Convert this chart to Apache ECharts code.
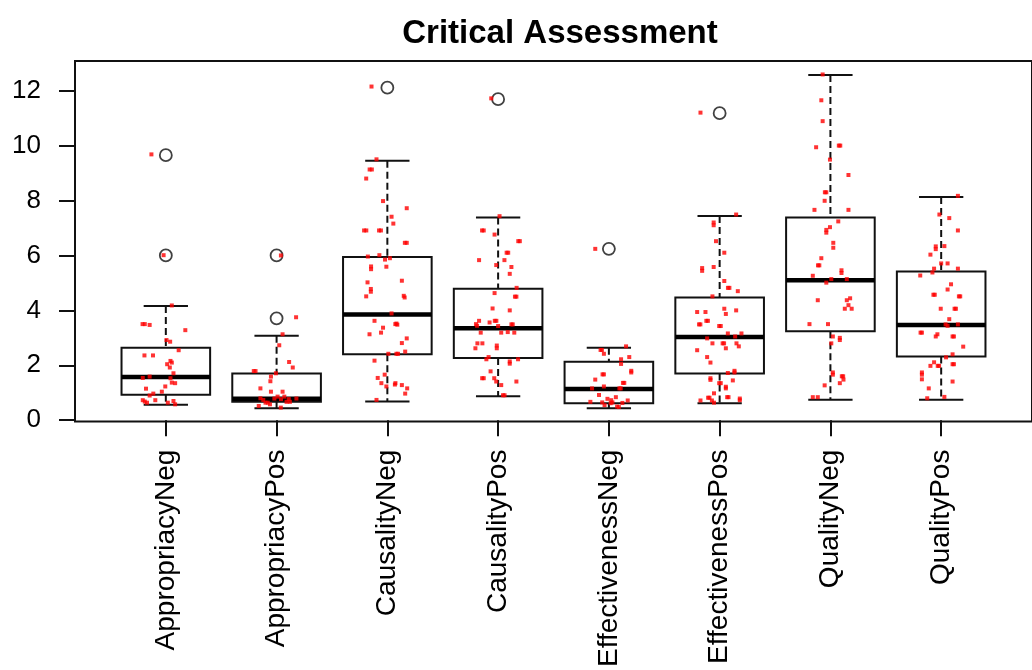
<!DOCTYPE html>
<html>
<head>
<meta charset="utf-8">
<script src="https://cdn.jsdelivr.net/npm/echarts@6/dist/echarts.min.js"></script>
<style>
  html, body { margin: 0; padding: 0; background: #fff; }
  #chart { width: 1032px; height: 670px; }
</style>
</head>
<body>
<div id="chart"></div>
<script>
// Groups on the x axis
const categories = ['AppropriacyNeg', 'AppropriacyPos', 'CausalityNeg', 'CausalityPos',
                    'EffectivenessNeg', 'EffectivenessPos', 'QualityNeg', 'QualityPos'];

// Five-number summaries per group
const whiskerLow  = [0.56, 0.44, 0.68, 0.87, 0.44, 0.62, 0.75, 0.75];
const lowerQuart  = [0.93, 0.67, 2.40, 2.27, 0.62, 1.70, 3.24, 2.32];
const medians     = [1.57, 0.78, 3.85, 3.35, 1.14, 3.03, 5.10, 3.47];
const upperQuart  = [2.64, 1.70, 5.94, 4.79, 2.13, 4.47, 7.38, 5.42];
const whiskerHigh = [4.16, 3.08, 9.45, 7.38, 2.64, 7.44, 12.57, 8.13];

// Values beyond the whiskers
const outliers = [[9.65, 6.0], [6.0, 3.71], [12.11], [11.69], [6.24], [11.18], [], []];

// Individual observations per group: [horizontal jitter, value]
const ptsAppropriacyNeg = [[-0.13,9.68],[-0.02,6.01],[0.054,4.18],[-0.21,3.50],[-0.19,3.50],[-0.146,3.47],[0.176,3.28],[0.006,2.92],[0.039,2.86],[0.116,2.55],[-0.193,2.36],[-0.116,2.36],[0.042,2.16],[0.054,2.10],[0.012,2.04],[0.036,1.92],[0.069,1.71],[-0.208,1.54],[-0.146,1.59],[0.042,1.53],[0.054,1.37],[0.084,1.35],[-0.005,1.23],[-0.179,1.15],[-0.036,1.04],[-0.113,0.97],[-0.146,0.90],[-0.208,0.73],[-0.17,0.64],[-0.095,0.73],[0.018,0.64],[0.069,0.70],[0.084,0.58],[-0.19,0.68]];
const ptsAppropriacyPos = [[0.039,6.0],[0.176,3.75],[0.054,3.13],[0.024,2.73],[0.113,2.12],[0.146,1.92],[-0.206,1.79],[-0.19,1.79],[-0.006,1.71],[-0.051,1.59],[-0.056,1.42],[-0.146,1.16],[-0.051,1.04],[0.054,1.04],[-0.146,0.80],[-0.12,0.74],[-0.08,0.64],[-0.06,0.58],[-0.02,0.79],[0.009,0.86],[0.04,0.77],[0.07,0.86],[0.09,0.67],[0.11,0.77],[0.179,0.79],[-0.161,0.52],[0.038,0.46],[-0.10,0.64],[0.12,0.67]];
const ptsCausalityNeg = [[-0.143,12.15],[-0.098,9.50],[-0.16,9.13],[-0.14,9.13],[-0.191,8.80],[-0.039,7.98],[0.175,7.72],[0.038,7.41],[0.054,7.16],[-0.21,6.91],[-0.19,6.91],[-0.075,6.91],[-0.058,6.91],[0.158,6.46],[0.175,6.46],[-0.176,5.96],[-0.072,6.01],[-0.021,5.85],[0.023,5.90],[-0.147,5.60],[-0.147,5.50],[-0.009,5.59],[-0.179,5.02],[0.131,5.08],[-0.149,4.78],[-0.149,4.68],[-0.191,4.51],[0.148,4.53],[0.156,4.47],[0.038,3.89],[-0.116,3.62],[0.072,3.50],[0.09,3.48],[0.082,3.52],[-0.039,3.37],[-0.161,3.13],[-0.057,3.19],[0.175,2.98],[0.131,2.81],[0.009,2.42],[0.082,2.42],[0.096,2.42],[0.161,2.50],[-0.116,2.17],[-0.024,1.66],[-0.087,1.54],[-0.054,1.35],[-0.009,1.23],[0.068,1.30],[0.073,1.35],[0.131,1.28],[0.179,1.16],[0.161,0.97],[-0.098,0.74]];
const ptsCausalityPos = [[-0.062,11.72],[0.013,7.43],[-0.145,6.91],[-0.13,6.91],[-0.032,6.76],[0.182,6.52],[0.196,6.52],[0.077,6.10],[0.091,6.10],[-0.172,5.83],[0.057,5.83],[-0.017,5.65],[0.12,5.58],[0.105,5.33],[0.167,4.82],[-0.032,4.63],[0.152,4.50],[0.165,4.50],[-0.05,4.07],[0.105,4.00],[-0.172,3.62],[-0.2,3.50],[-0.19,3.44],[-0.077,3.56],[-0.03,3.62],[-0.016,3.62],[0.0,3.43],[0.12,3.49],[0.132,3.49],[-0.157,3.19],[0.028,3.19],[0.087,3.21],[0.146,3.19],[-0.187,2.80],[-0.142,2.80],[-0.205,2.62],[-0.012,2.72],[-0.012,2.62],[-0.086,2.30],[-0.106,2.22],[0.18,2.22],[0.105,2.14],[0.105,2.06],[-0.068,1.78],[-0.144,1.53],[-0.13,1.53],[-0.035,1.53],[-0.017,1.41],[0.028,1.28],[0.165,1.41],[0.044,0.91],[0.058,0.91]];
const ptsEffectivenessNeg = [[-0.123,6.24],[0.155,2.69],[-0.075,2.56],[-0.063,2.56],[-0.045,2.42],[0.184,2.30],[0.11,2.22],[0.11,2.05],[0.202,1.80],[0.202,1.74],[-0.057,1.67],[-0.045,1.67],[-0.123,1.48],[0.127,1.36],[0.139,1.36],[-0.045,1.23],[-0.152,1.16],[0.095,1.16],[0.107,1.16],[-0.089,0.92],[-0.013,0.78],[0.021,0.73],[0.063,0.84],[0.17,0.72],[-0.167,0.67],[-0.06,0.65],[0.032,0.65],[0.122,0.63],[-0.039,0.55],[0.074,0.50],[0.09,0.48],[0.016,0.62]];
const ptsEffectivenessPos = [[-0.173,11.2],[0.149,7.49],[-0.054,7.20],[-0.054,7.10],[-0.033,6.52],[0.042,6.10],[-0.158,5.54],[-0.158,5.44],[-0.054,5.58],[0.042,5.07],[0.075,4.82],[0.088,4.82],[0.164,4.70],[-0.065,4.51],[-0.203,3.94],[-0.128,3.94],[0.042,4.06],[0.149,4.00],[0.056,3.87],[-0.12,3.62],[-0.106,3.62],[-0.186,3.49],[-0.174,3.49],[-0.004,3.43],[0.01,3.43],[0.074,3.16],[0.14,3.05],[0.197,3.16],[-0.113,2.98],[-0.065,2.80],[0.027,2.80],[0.04,2.80],[0.152,2.80],[0.173,2.69],[0.056,2.62],[-0.203,2.55],[-0.113,2.30],[-0.083,2.10],[0.074,1.72],[0.134,1.80],[0.134,1.74],[-0.083,1.53],[-0.083,1.47],[-0.004,1.35],[0.01,1.35],[0.119,1.45],[0.056,1.22],[0.056,1.16],[-0.051,0.98],[-0.104,0.82],[-0.092,0.82],[0.068,0.84],[0.08,0.84],[-0.173,0.72],[-0.051,0.64],[0.182,0.79],[0.182,0.73],[-0.07,0.72]];
const ptsQualityNeg = [[-0.07,12.59],[-0.082,11.65],[-0.07,10.89],[-0.129,9.94],[0.076,10.0],[0.089,10.0],[-0.004,9.49],[0.163,8.93],[-0.05,8.30],[-0.037,8.30],[-0.052,7.99],[-0.144,7.66],[0.163,7.66],[0.071,7.24],[-0.004,7.03],[-0.037,6.93],[-0.037,6.83],[0.026,6.46],[0.026,6.28],[-0.082,5.90],[-0.112,5.64],[-0.1,5.64],[0.1,5.46],[0.1,5.36],[-0.159,5.26],[0.008,5.14],[0.148,5.14],[-0.037,5.01],[0.178,4.44],[0.148,4.37],[-0.114,4.37],[0.163,4.19],[0.13,4.06],[0.192,4.06],[-0.189,3.50],[-0.022,3.50],[0.022,3.05],[0.085,3.00],[0.085,2.92],[0.008,2.80],[0.022,1.74],[0.022,1.66],[0.103,1.60],[0.115,1.60],[0.118,1.48],[0.085,1.35],[-0.052,1.27],[-0.159,0.84],[-0.114,0.84]];
const ptsQualityPos = [[0.151,8.17],[-0.016,7.49],[0.073,7.36],[0.151,6.91],[0.029,6.34],[-0.049,6.33],[-0.049,6.23],[-0.097,6.03],[0.0,5.71],[0.058,5.71],[-0.064,5.52],[0.151,5.52],[-0.079,5.38],[-0.189,5.27],[0.089,4.95],[0.058,4.76],[-0.07,4.57],[-0.058,4.57],[0.16,4.51],[0.172,4.51],[-0.004,4.06],[0.121,4.06],[0.133,4.06],[0.073,3.68],[0.058,3.44],[0.151,3.49],[0.04,3.49],[-0.186,3.19],[-0.174,3.19],[-0.034,3.13],[-0.049,3.05],[0.103,3.05],[0.115,3.05],[0.199,2.68],[0.103,2.40],[0.044,2.29],[-0.064,2.11],[-0.097,1.98],[-0.031,1.98],[-0.019,1.98],[0.103,2.04],[0.115,2.04],[-0.174,1.74],[-0.174,1.66],[-0.174,1.49],[0.103,1.41],[-0.112,1.16],[-0.126,0.80],[0.029,0.85]];

const yTicks = [0, 2, 4, 6, 8, 10, 12];
const titleText = 'Critical Assessment';

const groupPoints = [ptsAppropriacyNeg, ptsAppropriacyPos, ptsCausalityNeg, ptsCausalityPos,
                     ptsEffectivenessNeg, ptsEffectivenessPos, ptsQualityNeg, ptsQualityPos];
const positions = categories.map((c, i) => i + 1);

const boxData = categories.map((c, i) =>
  [positions[i], whiskerLow[i], lowerQuart[i], medians[i], upperQuart[i], whiskerHigh[i]]);
const outlierData = [];
outliers.forEach((list, i) => list.forEach(v => outlierData.push([positions[i], v])));
const pointData = [];
groupPoints.forEach((list, i) => list.forEach(p => pointData.push([positions[i] + p[0], p[1]])));

const FONT = 'Liberation Sans, Arial, sans-serif';
const INK = '#111';

function renderBox(params, api) {
  const x = api.value(0);
  const lo = api.value(1), q1 = api.value(2), md = api.value(3), q3 = api.value(4), hi = api.value(5);
  const halfBox = 0.4, halfCap = 0.2;
  const tl = api.coord([x - halfBox, q3]);
  const br = api.coord([x + halfBox, q1]);
  const pLo = api.coord([x, lo]), pQ1 = api.coord([x, q1]);
  const pQ3 = api.coord([x, q3]), pHi = api.coord([x, hi]);
  const capLoL = api.coord([x - halfCap, lo]), capLoR = api.coord([x + halfCap, lo]);
  const capHiL = api.coord([x - halfCap, hi]), capHiR = api.coord([x + halfCap, hi]);
  const mL = api.coord([x - halfBox, md]), mR = api.coord([x + halfBox, md]);
  const solid = { stroke: INK, lineWidth: 2 };
  const dashed = { stroke: INK, lineWidth: 2, lineDash: [7, 4] };
  return {
    type: 'group',
    children: [
      { type: 'line', shape: { x1: pHi[0], y1: pHi[1], x2: pQ3[0], y2: pQ3[1] }, style: dashed },
      { type: 'line', shape: { x1: pQ1[0], y1: pQ1[1], x2: pLo[0], y2: pLo[1] }, style: dashed },
      { type: 'line', shape: { x1: capHiL[0], y1: capHiL[1], x2: capHiR[0], y2: capHiR[1] }, style: solid },
      { type: 'line', shape: { x1: capLoL[0], y1: capLoL[1], x2: capLoR[0], y2: capLoR[1] }, style: solid },
      { type: 'rect', shape: { x: tl[0], y: tl[1], width: br[0] - tl[0], height: br[1] - tl[1] },
        style: { fill: '#fff', stroke: INK, lineWidth: 2 } },
      { type: 'line', shape: { x1: mL[0], y1: mL[1], x2: mR[0], y2: mR[1] },
        style: { stroke: '#000', lineWidth: 4.5 } }
    ]
  };
}

const chart = echarts.init(document.getElementById('chart'), null, { renderer: 'canvas' });
chart.setOption({
  animation: false,
  backgroundColor: '#fff',
  title: {
    text: titleText,
    left: 555,
    top: 12,
    textAlign: 'center',
    textStyle: { fontFamily: FONT, fontWeight: 'bold', fontSize: 33, color: '#000' }
  },
  grid: {
    left: 75, right: -10, top: 61, bottom: 247,
    show: true, borderColor: INK, borderWidth: 2, backgroundColor: 'transparent'
  },
  xAxis: {
    type: 'value',
    min: 0.18, max: 8.82,
    splitLine: { show: false },
    axisLine: { show: false },
    axisTick: { show: true, customValues: positions, length: 16, lineStyle: { color: INK, width: 2 } },
    axisLabel: {
      customValues: positions,
      formatter: v => categories[Math.round(v) - 1],
      rotate: 90, margin: 28,
      fontFamily: FONT, fontSize: 28, color: '#000'
    }
  },
  yAxis: {
    type: 'value',
    min: -0.05, max: 13.08,
    splitLine: { show: false },
    axisLine: { show: false },
    axisTick: { show: true, customValues: yTicks, length: 16, lineStyle: { color: INK, width: 2 } },
    axisLabel: {
      customValues: yTicks,
      margin: 34,
      fontFamily: FONT, fontSize: 26, color: '#000'
    }
  },
  series: [
    {
      type: 'custom',
      renderItem: renderBox,
      data: boxData,
      encode: { x: 0, y: [1, 2, 3, 4, 5] },
      z: 2
    },
    {
      type: 'scatter',
      data: outlierData,
      symbol: 'circle',
      symbolSize: 12,
      itemStyle: { color: 'transparent', borderColor: INK, borderWidth: 1.8 },
      z: 3
    },
    {
      type: 'scatter',
      data: pointData,
      symbol: 'rect',
      symbolSize: 4,
      itemStyle: { color: '#ff0000' },
      z: 4
    }
  ]
});
</script>
</body>
</html>
